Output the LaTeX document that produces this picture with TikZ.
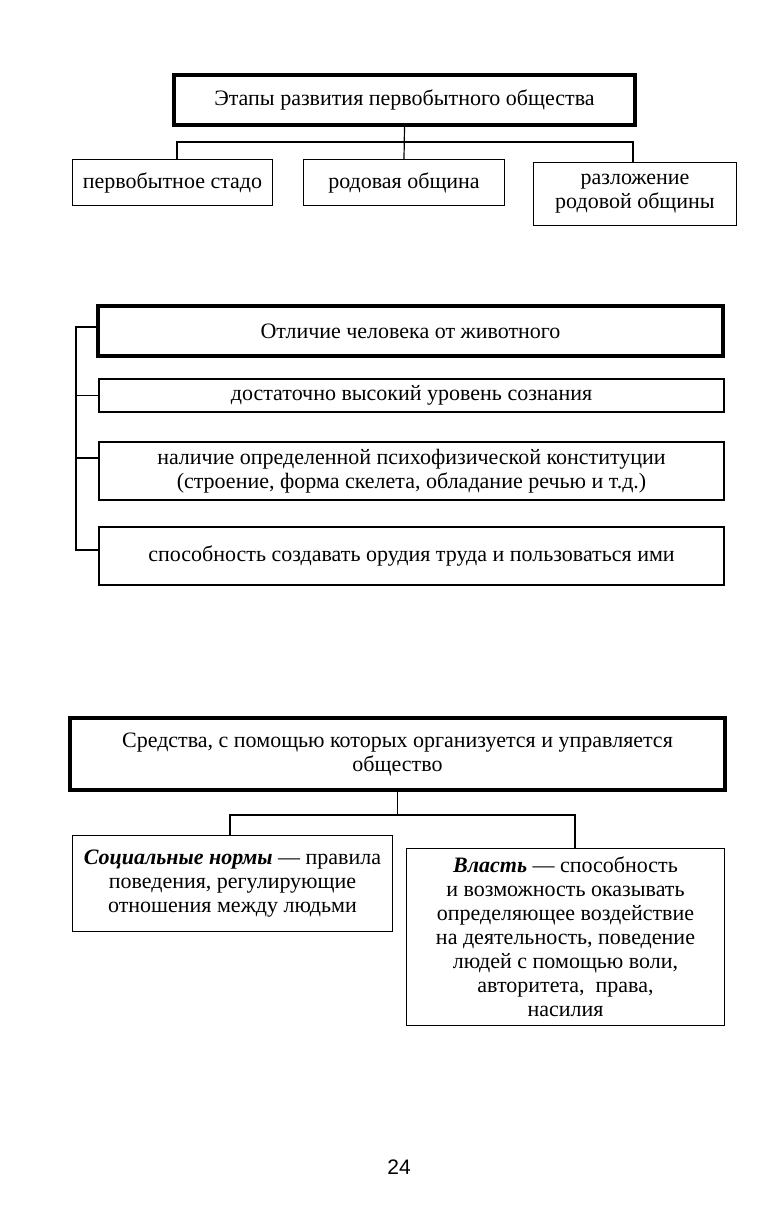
\documentclass[tikz,border=0pt]{standalone}
\usepackage{fontspec}
\setmainfont{Liberation Serif}
\newfontfamily\pagefont{Liberation Sans}
\begin{document}
\begin{tikzpicture}[x=1pt,y=-1pt,
  every node/.style={font=\fontsize{22}{24}\selectfont, align=center, inner sep=0pt},
  thinbox/.style={draw, line width=1.2pt, rectangle},
  thickbox/.style={draw, line width=4pt, rectangle},
  link/.style={line width=1.2pt}]
\useasboundingbox (0,0) rectangle (771,1211);
% Section 1
\node[thickbox, minimum width=461, minimum height=50] (t1) at (404.5,100) {Этапы развития первобытного общества};
\node[thinbox, minimum width=200, minimum height=46] (a1) at (172.5,182.5) {первобытное стадо};
\node[thinbox, minimum width=201, minimum height=46] (a2) at (404,182.5) {родовая община};
\node[thinbox, minimum width=203, minimum height=63] (a3) at (635,194) {разложение\\родовой общины};
\draw[link] (t1.south) -- (a2.north);
\draw[link] ([xshift=4.5pt]a1.north) -- ++(0,-17) -| ([xshift=-2pt]a3.north);
% Section 2
\node[thickbox, minimum width=625, minimum height=50] (t2) at (410.5,331) {Отличие человека от животного};
\node[thinbox, minimum width=625, minimum height=33] (b1) at (411.5,395.5) {достаточно высокий уровень сознания};
\node[thinbox, minimum width=625, minimum height=58] (b2) at (411.5,471) {наличие определенной психофизической конституции\\(строение, форма скелета, обладание речью и т.д.)};
\node[thinbox, minimum width=625, minimum height=58] (b3) at (411.5,556) {способность создавать орудия труда и пользоваться ими};
\coordinate (brtop) at (76,327);
\coordinate (b2s) at ([yshift=13pt]b2.west);
\coordinate (b3s) at ([yshift=6pt]b3.west);
\draw[link] ([yshift=4pt]t2.west) -- (brtop) |- (b3s);
\draw[link] (brtop |- b1.west) -- (b1.west);
\draw[link] (brtop |- b2s) -- (b2s);
% Section 3
\node[thickbox, minimum width=655, minimum height=72] (t3) at (397.5,754) {Средства, с помощью которых организуется и управляется\\общество};
\node[thinbox, minimum width=320, minimum height=96] (c1) at (232.5,883.5) {\textbf{\textit{Социальные нормы}} — правила\\поведения, регулирующие\\отношения между людьми};
\node[thinbox, minimum width=318, minimum height=177] (c2) at (565.5,937) {\textbf{\textit{Власть}} — способность\\и возможность оказывать\\определяющее воздействие\\на деятельность, поведение\\людей с помощью воли,\\авторитета,\ \ права,\\насилия};
\draw[link] (t3.south) -- ++(0,23) coordinate (bus3);
\draw[link] ([xshift=-2.5pt]c1.north) -- ++(0,-20) -| ([xshift=9.5pt]c2.north);
% page number
\node[font=\pagefont\fontsize{21}{24}\selectfont] (pg) at (399,1167) {24};
\end{tikzpicture}
\end{document}
